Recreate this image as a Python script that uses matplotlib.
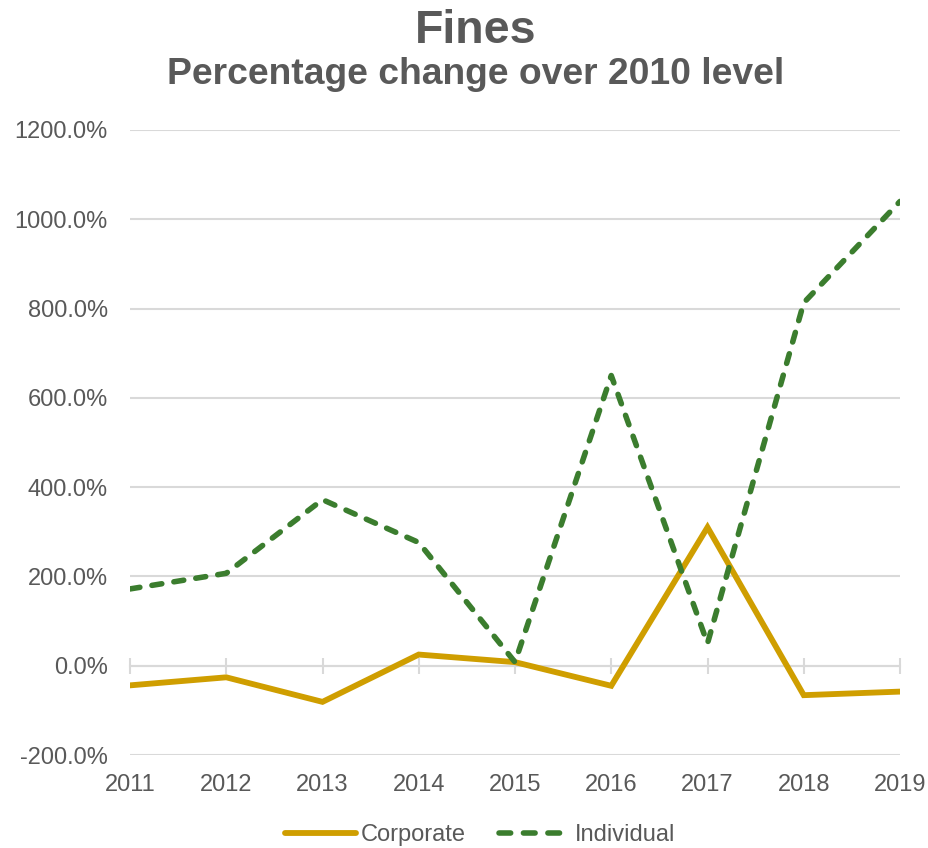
import matplotlib
matplotlib.use("Agg")
import matplotlib.pyplot as plt
from matplotlib.ticker import FuncFormatter

plt.rcParams["font.family"] = ["Liberation Sans", "DejaVu Sans"]

years = [2011, 2012, 2013, 2014, 2015, 2016, 2017, 2018, 2019]
corporate = [-44, -26, -81, 25, 8, -45, 310, -66, -58]
individual = [172, 207, 372, 276, 8, 650, 50, 813, 1040]
y_ticks = [-200, 0, 200, 400, 600, 800, 1000, 1200]

TEXT = "#595959"
GRID = "#D9D9D9"
GOLD = "#CF9E00"
GREEN = "#3B7D2E"

fig = plt.figure(figsize=(9.29, 8.48), dpi=100)
ax = fig.add_axes([130 / 929, 1 - 755 / 848, 770 / 929, 625 / 848])

ax.plot(years, corporate, color=GOLD, lw=4.2, solid_capstyle="round",
        solid_joinstyle="miter", label="Corporate", zorder=3)
ax.plot(years, individual, color=GREEN, lw=4.0, dashes=(1.8, 2.2),
        dash_capstyle="round", label="Individual", zorder=4)

ax.set_xlim(years[0], years[-1])
ax.set_ylim(y_ticks[0], y_ticks[-1])
ax.set_yticks(y_ticks)
ax.yaxis.set_major_formatter(FuncFormatter(lambda v, p: f"{v:.1f}%"))
ax.grid(axis="y", color=GRID, lw=1.5, zorder=0)
ax.tick_params(axis="y", length=0, pad=16, labelsize=17, labelcolor=TEXT)

for s in ["top", "right", "left"]:
    ax.spines[s].set_visible(False)
ax.spines["bottom"].set_position(("data", 0))
ax.spines["bottom"].set_color(GRID)
ax.spines["bottom"].set_linewidth(1.5)
ax.spines["bottom"].set_zorder(1)
ax.set_xticks(years)
ax.tick_params(axis="x", direction="inout", length=11.5, width=1.5,
               color=GRID, labelbottom=False)

sec = ax.secondary_xaxis("bottom")
sec.set_xticks(years)
sec.set_xticklabels([str(y) for y in years])
sec.spines["bottom"].set_visible(False)
sec.tick_params(length=0, pad=14, labelsize=17, labelcolor=TEXT)

fig.text(476 / 929, 1 - 31 / 848, "Fines", ha="center", va="center",
         fontsize=33.5, fontweight="bold", color=TEXT)
fig.text(476 / 929, 1 - 75 / 848, "Percentage change over 2010 level",
         ha="center", va="center", fontsize=26.8, fontweight="bold", color=TEXT)

leg = fig.legend(loc="center", bbox_to_anchor=(480 / 929, 1 - 835 / 848),
                 ncol=2, frameon=False, fontsize=17, handlelength=3,
                 handletextpad=0.2, columnspacing=1.4)
for t in leg.get_texts():
    t.set_color(TEXT)
# three dashes in the legend key, then a gap before the label
leg.get_lines()[1].set_dashes((2.1, 2.3, 2.1, 2.3, 2.1, 10))

fig.savefig("out.png", dpi=100)
